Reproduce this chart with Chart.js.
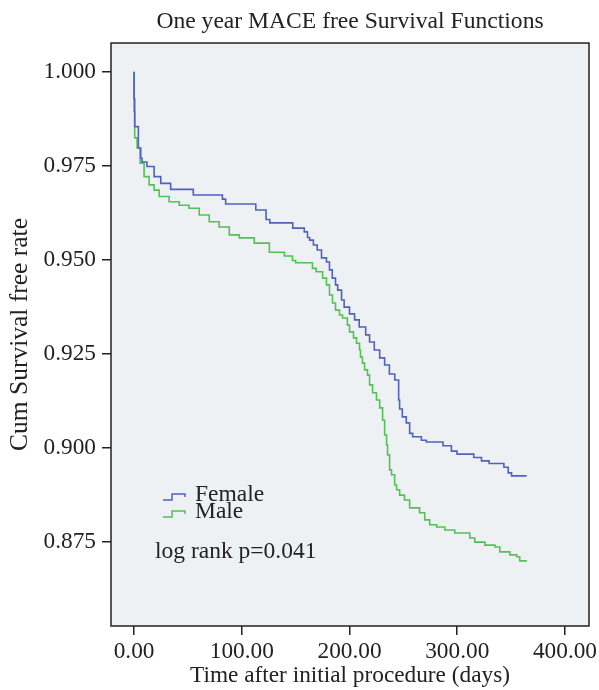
<!DOCTYPE html>
<html lang="en">
<head>
  <meta charset="UTF-8" />
  <title>One year MACE free Survival Functions</title>
  <script src="https://cdn.jsdelivr.net/npm/chart.js"></script>
  <style>
    body { margin: 0; background: #fff; }
    #wrap { width: 599px; height: 690px; }
  </style>
</head>
<body>
<div id="wrap"><canvas id="survChart"></canvas></div>
<script>
  // tick labels
  const xTicks = [0, 100, 200, 300, 400];
  const yTicks = [0.875, 0.900, 0.925, 0.950, 0.975, 1.000];

  // Female curve (days, cumulative survival)
  const femaleDays = [0, 0.6, 4, 6.2, 7.4, 12, 18.6, 24.8, 34, 55, 82, 85, 113, 122.5, 126, 147.3, 158, 161, 163, 166.5, 170, 174, 178.6, 181.4, 184, 187, 189, 192.6, 195, 200, 204.7, 209, 215, 218.6, 223, 228, 232.6, 237, 242, 245.6, 246.5, 249, 252.7, 255.8, 258.6, 266.7, 271.3, 286.8, 294.6, 299.8, 315.3, 322.5, 329.6, 343.3, 347.3, 350.4, 364.4];
  const femaleRate = [1.000, 0.9928, 0.9854, 0.9797, 0.9770, 0.9760, 0.9748, 0.9721, 0.9703, 0.9687, 0.9672, 0.9661, 0.9648, 0.9632, 0.9607, 0.9598, 0.9584, 0.9574, 0.9559, 0.9552, 0.9539, 0.9526, 0.9505, 0.9494, 0.9473, 0.9451, 0.9433, 0.9419, 0.9393, 0.9374, 0.9356, 0.9340, 0.9321, 0.9300, 0.9281, 0.9260, 0.9239, 0.9220, 0.9196, 0.9180, 0.9127, 0.9103, 0.9082, 0.9066, 0.9038, 0.9029, 0.9020, 0.9015, 0.9005, 0.8991, 0.8983, 0.8974, 0.8965, 0.8958, 0.8948, 0.8933, 0.8925];

  // Male curve
  const maleDays = [0, 0.6, 2.8, 5.6, 9.3, 14, 18.6, 23.3, 32.6, 41.9, 51, 60.5, 69.8, 79, 88.4, 97.7, 111.6, 125.6, 139.5, 147, 150, 165.6, 169, 175, 178.6, 181.4, 184.2, 187, 190.7, 193.5, 198, 200, 203.7, 206.5, 209.3, 210.2, 212, 214, 216.7, 218.6, 221.4, 225, 228, 230.7, 232.6, 234.4, 235.3, 237.2, 239, 241.9, 243.7, 246.5, 251, 255.8, 265, 269.8, 274.4, 281, 288.4, 297.7, 311.6, 316.3, 325.6, 335, 339.5, 348.8, 355.3, 358, 364.6];
  const maleRate = [1.000, 0.9894, 0.9824, 0.9797, 0.9757, 0.9721, 0.9699, 0.9685, 0.9668, 0.9654, 0.9645, 0.9637, 0.9619, 0.9601, 0.9587, 0.9566, 0.9558, 0.9544, 0.9520, 0.9510, 0.9498, 0.9492, 0.9477, 0.9468, 0.9451, 0.9433, 0.9406, 0.9385, 0.9366, 0.9353, 0.9345, 0.9326, 0.9308, 0.9292, 0.9278, 0.9260, 0.9241, 0.9225, 0.9207, 0.9193, 0.9167, 0.9146, 0.9127, 0.9106, 0.9073, 0.9034, 0.9007, 0.8981, 0.8941, 0.8928, 0.8901, 0.8888, 0.8874, 0.8861, 0.8840, 0.8827, 0.8808, 0.8795, 0.8789, 0.8781, 0.8773, 0.8760, 0.8749, 0.8741, 0.8736, 0.8723, 0.8715, 0.8710, 0.8699];

  const femaleColor = '#5062bb';
  const maleColor = '#55c057';
  const serif = "'Liberation Serif', 'DejaVu Serif', serif";

  function toPoints(days, rate) {
    return days.map((d, i) => ({ x: d, y: rate[i] }));
  }

  // plot background, frame, legend and log rank note
  const framePlugin = {
    id: 'frame',
    beforeDatasetsDraw(chart) {
      const { ctx, chartArea: a } = chart;
      ctx.save();
      ctx.fillStyle = '#eef1f4';
      ctx.fillRect(a.left, a.top, a.right - a.left, a.bottom - a.top);
      ctx.restore();
    },
    afterDatasetsDraw(chart) {
      const { ctx, chartArea: a } = chart;
      ctx.save();
      ctx.strokeStyle = '#222';
      ctx.lineWidth = 1.5;
      ctx.strokeRect(a.left, a.top, a.right - a.left, a.bottom - a.top);

      // legend
      const items = [['Female', femaleColor, 500], ['Male', maleColor, 517]];
      ctx.lineWidth = 1.5;
      items.forEach(([label, color, y]) => {
        ctx.strokeStyle = color;
        ctx.beginPath();
        ctx.moveTo(163, y);
        ctx.lineTo(172, y);
        ctx.lineTo(172, y - 6);
        ctx.lineTo(185, y - 6);
        ctx.lineTo(185, y - 3);
        ctx.stroke();
        ctx.fillStyle = '#222';
        ctx.font = '23.5px ' + serif;
        ctx.textBaseline = 'middle';
        ctx.fillText(label, 195, y - 5);
      });
      ctx.fillText('log rank p=0.041', 155, 552);
      ctx.restore();
    }
  };

  new Chart(document.getElementById('survChart'), {
    type: 'line',
    data: {
      datasets: [
        {
          label: 'Female',
          data: toPoints(femaleDays, femaleRate),
          borderColor: femaleColor,
          borderWidth: 1.6,
          stepped: 'after',
          pointRadius: 0,
          fill: false
        },
        {
          label: 'Male',
          data: toPoints(maleDays, maleRate),
          borderColor: maleColor,
          borderWidth: 1.6,
          stepped: 'after',
          pointRadius: 0,
          fill: false
        }
      ]
    },
    options: {
      responsive: true,
      maintainAspectRatio: false,
      animation: false,
      layout: { padding: { left: 0, right: 10, top: 0, bottom: 0 } },
      plugins: {
        legend: { display: false },
        tooltip: { enabled: false },
        title: {
          display: true,
          fullSize: false,
          text: 'One year MACE free Survival Functions',
          color: '#222',
          font: { family: serif, size: 23.6, weight: 'normal' },
          padding: { top: 8, bottom: 6.7 }
        }
      },
      scales: {
        x: {
          type: 'linear',
          min: -21.4,
          max: 422.3,
          afterBuildTicks: (scale) => { scale.ticks = xTicks.map(v => ({ value: v })); },
          afterFit: (scale) => {
            scale.height = 64;
            scale.paddingLeft = 0;
            scale.paddingRight = 0;
          },
          grid: { display: true, drawOnChartArea: false, drawTicks: true, tickLength: 9, color: '#222', lineWidth: 1.5 },
          border: { display: false },
          ticks: {
            color: '#222',
            padding: 3,
            font: { family: serif, size: 23.3 },
            callback: (v) => Number(v).toFixed(2)
          },
          title: {
            display: true,
            text: 'Time after initial procedure (days)',
            color: '#222',
            font: { family: serif, size: 23.3 },
            padding: { top: 0, bottom: 0 }
          }
        },
        y: {
          type: 'linear',
          min: 0.85258,
          max: 1.00763,
          afterBuildTicks: (scale) => { scale.ticks = yTicks.map(v => ({ value: v })); },
          afterFit: (scale) => {
            scale.width = 111;
            scale.paddingTop = 0;
            scale.paddingBottom = 0;
          },
          grid: { display: true, drawOnChartArea: false, drawTicks: true, tickLength: 9, color: '#222', lineWidth: 1.5 },
          border: { display: false },
          ticks: {
            color: '#222',
            padding: 6,
            font: { family: serif, size: 23.3 },
            callback: (v) => Number(v).toFixed(3)
          },
          title: {
            display: true,
            text: 'Cum Survival free rate',
            color: '#222',
            font: { family: serif, size: 25.5 },
            padding: { top: 4.5, bottom: 0 }
          }
        }
      }
    },
    plugins: [framePlugin]
  });
</script>
</body>
</html>
